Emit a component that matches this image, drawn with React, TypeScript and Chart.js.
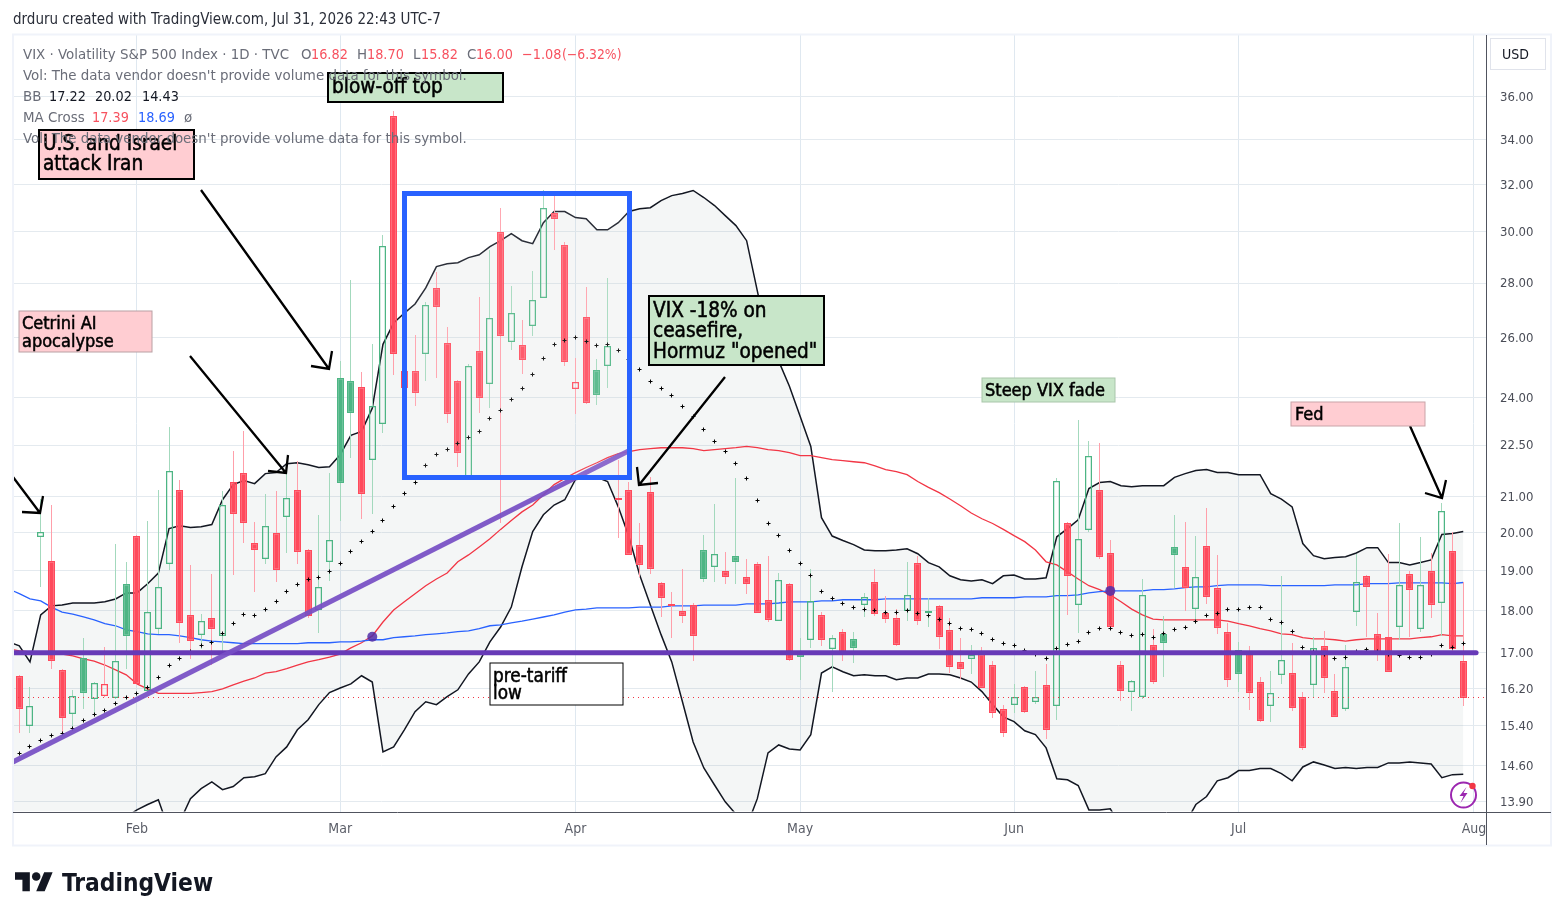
import React, { useEffect, useRef } from "react";
import { Chart, registerables } from "chart.js";

Chart.register(...registerables);

const opens = [16.48,15.40,19.88,19.25,16.61,15.64,16.87,15.97,16.04,15.99,18.66,19.91,16.15,17.56,19.17,21.19,17.89,17.42,17.81,17.39,21.42,21.68,19.72,19.30,19.99,20.42,21.19,19.53,18.01,19.22,24.62,24.52,24.32,22.05,23.14,35.10,24.86,24.86,25.44,27.82,25.82,24.52,21.54,25.54,24.42,30.01,25.86,25.75,26.42,27.45,30.77,29.49,24.26,26.75,24.89,25.03,20.88,21.19,19.66,21.13,18.68,18.13,17.98,18.13,19.53,19.09,18.99,19.38,18.84,19.17,18.26,17.75,18.64,16.97,17.30,17.89,17.09,17.49,17.32,18.14,18.71,17.94,17.82,17.99,19.20,17.98,18.11,17.53,16.79,16.86,16.97,16.72,15.76,15.85,16.24,15.91,16.28,15.82,20.24,18.13,20.05,21.19,19.45,16.72,16.13,16.02,17.18,17.44,19.61,19.09,18.04,19.64,18.56,17.49,17.07,17.00,16.34,15.81,16.50,16.54,16.02,16.28,17.16,16.15,15.76,17.95,18.86,17.44,17.37,17.60,18.91,17.56,18.99,18.18,19.50,16.82];
const highs = [16.50,16.23,20.92,20.75,16.64,16.17,17.34,16.32,17.14,19.70,19.22,19.94,20.32,21.19,23.05,21.45,19.14,17.91,18.91,21.16,22.33,22.92,20.29,21.05,21.16,21.65,22.03,19.56,20.48,21.68,25.20,28.12,24.83,25.78,29.89,35.30,24.95,26.10,27.28,28.43,26.38,24.52,25.10,27.47,29.28,31.00,27.89,26.64,28.47,31.74,31.60,29.61,25.30,27.85,25.27,28.20,22.06,21.42,20.24,21.54,18.71,18.46,19.04,18.18,19.94,20.78,19.48,21.51,19.30,19.22,19.38,18.93,18.68,17.34,19.04,17.96,17.42,17.56,17.49,18.43,19.04,18.36,18.03,19.22,19.38,18.31,18.13,17.82,17.34,17.18,17.13,16.81,15.85,16.30,16.24,16.59,16.75,21.51,20.29,23.29,22.61,22.55,19.80,16.81,16.36,18.78,17.56,17.87,20.48,20.29,19.91,20.67,19.40,17.70,17.25,17.16,16.45,16.59,18.86,17.23,16.13,17.37,17.51,16.52,17.18,19.43,18.88,17.94,19.43,20.26,18.99,19.88,19.45,20.81,20.02,18.70];
const lows = [15.26,15.26,18.58,16.64,15.24,15.32,15.76,15.68,16.02,15.97,16.64,16.27,16.13,17.44,19.01,17.23,16.86,17.09,16.72,17.04,18.88,19.72,18.44,19.17,18.71,19.45,19.17,17.82,17.47,18.73,20.32,22.12,20.35,20.51,22.87,24.72,24.20,23.71,24.55,24.63,23.17,21.83,21.50,23.49,23.65,20.24,25.58,24.76,26.06,27.44,29.28,25.03,23.46,23.79,23.74,24.29,19.86,19.40,18.84,18.91,17.84,17.35,17.70,16.81,18.71,18.71,18.64,18.66,18.41,17.94,17.72,17.74,16.81,16.39,17.11,17.16,16.13,16.81,16.77,17.84,17.87,17.70,17.16,17.74,17.65,17.60,17.09,16.54,16.41,16.52,16.21,15.57,15.18,15.68,15.67,15.87,15.13,15.53,17.89,17.47,20.02,19.30,17.56,15.93,15.72,15.97,16.30,16.45,18.56,17.99,17.67,18.16,17.44,16.23,16.13,15.74,15.49,15.49,16.30,15.72,14.91,16.00,16.11,15.59,15.72,17.63,17.37,16.81,16.57,17.30,17.37,17.49,17.82,17.39,16.95,15.82];
const closes = [15.76,15.82,20.00,16.82,15.57,16.04,16.09,16.31,16.29,16.80,17.38,16.29,17.95,18.58,21.74,17.70,17.28,17.75,17.56,20.75,20.51,20.24,19.53,20.18,19.01,20.95,19.48,17.87,18.58,19.80,21.37,23.49,21.07,23.71,29.45,25.44,24.30,24.13,27.20,27.12,23.46,22.27,25.03,23.97,26.70,26.07,26.89,25.23,27.37,31.00,30.54,25.16,24.49,23.80,24.06,25.71,20.95,19.41,19.14,19.04,18.31,18.11,17.87,17.39,18.78,19.43,18.84,19.22,18.64,17.94,17.77,18.75,16.84,16.90,18.23,17.30,17.33,17.00,17.11,18.33,17.92,17.79,17.18,18.38,17.74,17.94,17.37,16.68,16.64,16.95,16.21,15.67,15.26,16.02,15.70,16.02,15.32,21.44,18.86,19.82,22.18,19.35,17.60,16.15,16.36,18.38,16.34,17.23,19.40,18.56,18.84,18.33,17.58,16.39,16.52,16.09,15.51,16.09,16.84,15.78,14.95,17.11,16.44,15.59,16.67,18.71,18.58,16.97,16.57,18.63,18.51,18.63,18.14,20.58,17.08,16.00];

// overlay series start one session before the first candle
const bbUpper = [17.25,17.16,16.79,17.89,18.11,18.13,18.18,18.18,18.18,18.21,18.28,18.43,18.43,18.66,18.93,20.10,20.18,20.13,20.15,20.21,20.90,21.33,21.45,21.36,21.65,21.68,21.94,21.97,21.91,21.83,21.85,22.21,22.80,22.92,23.65,25.78,26.53,26.89,27.22,27.82,28.63,28.74,28.78,28.98,29.09,29.41,29.65,29.93,29.65,29.53,30.38,30.84,30.84,30.59,30.54,30.09,30.09,30.38,30.84,30.96,31.00,31.30,31.51,31.60,31.73,31.43,31.09,30.67,30.26,29.65,27.71,25.89,25.20,24.36,23.39,22.46,20.40,19.90,19.78,19.67,19.53,19.51,19.51,19.53,19.56,19.43,19.20,19.09,18.86,18.76,18.73,18.76,18.66,18.86,18.88,18.78,18.78,18.81,19.88,20.10,20.34,21.22,21.39,21.42,21.30,21.27,21.30,21.30,21.30,21.54,21.65,21.74,21.77,21.68,21.68,21.62,21.62,21.62,21.07,20.92,20.70,19.70,19.38,19.30,19.33,19.35,19.45,19.59,19.59,19.20,19.20,19.14,19.20,19.27,19.94,19.97,20.02];
const bbLower = [13.30,13.30,13.20,13.20,13.30,13.30,13.30,13.35,13.40,13.45,13.50,13.62,13.75,13.85,13.94,13.38,13.53,13.96,14.15,14.28,14.13,14.19,14.36,14.38,14.44,14.77,14.97,15.32,15.53,15.85,16.11,16.21,16.30,16.48,16.34,14.87,14.97,15.32,15.70,15.91,15.85,16.02,16.17,16.52,16.79,17.25,17.60,18.08,19.09,20.02,20.48,20.75,20.90,21.48,21.51,21.54,21.42,20.70,19.88,18.88,18.13,17.42,16.79,15.91,15.07,14.55,14.22,13.90,13.67,13.44,13.96,14.85,15.01,14.93,14.91,15.22,16.54,16.68,16.57,16.48,16.50,16.48,16.48,16.39,16.43,16.43,16.52,16.52,16.50,16.43,16.34,16.13,15.85,15.59,15.49,15.30,15.22,14.95,14.34,14.32,14.21,13.75,13.75,13.77,13.44,13.26,13.17,13.14,13.14,13.17,13.49,13.85,14.00,14.30,14.36,14.50,14.50,14.54,14.54,14.44,14.30,14.57,14.67,14.61,14.54,14.56,14.54,14.56,14.56,14.65,14.65,14.67,14.65,14.63,14.36,14.42,14.43];
const maSlow = [18.53,18.41,18.28,18.23,18.08,17.96,17.91,17.84,17.77,17.68,17.63,17.53,17.49,17.44,17.42,17.42,17.39,17.35,17.30,17.27,17.25,17.23,17.21,17.21,17.21,17.21,17.21,17.21,17.23,17.23,17.23,17.25,17.25,17.27,17.30,17.30,17.35,17.37,17.39,17.42,17.44,17.46,17.49,17.51,17.56,17.63,17.65,17.70,17.74,17.79,17.84,17.89,17.96,18.01,18.03,18.06,18.06,18.06,18.06,18.08,18.08,18.08,18.11,18.11,18.11,18.13,18.13,18.13,18.13,18.16,18.16,18.16,18.18,18.21,18.21,18.21,18.23,18.23,18.26,18.26,18.26,18.26,18.28,18.28,18.28,18.28,18.28,18.28,18.28,18.28,18.28,18.31,18.31,18.31,18.31,18.33,18.33,18.33,18.36,18.36,18.38,18.43,18.46,18.48,18.48,18.48,18.48,18.51,18.51,18.53,18.56,18.58,18.58,18.61,18.63,18.63,18.63,18.63,18.61,18.61,18.61,18.61,18.61,18.61,18.63,18.63,18.63,18.66,18.66,18.66,18.68,18.68,18.68,18.68,18.68,18.66,18.69];
const maFast = [17.09,17.04,17.02,17.02,17.00,16.97,16.93,16.86,16.81,16.72,16.61,16.50,16.30,16.19,16.09,16.09,16.09,16.09,16.11,16.13,16.19,16.28,16.36,16.43,16.54,16.57,16.64,16.72,16.79,16.84,16.90,16.97,17.11,17.23,17.39,17.72,18.01,18.21,18.41,18.61,18.78,18.93,19.22,19.40,19.61,19.83,20.08,20.32,20.56,20.75,21.04,21.33,21.51,21.68,21.83,21.97,22.12,22.24,22.30,22.36,22.39,22.42,22.42,22.42,22.39,22.33,22.36,22.39,22.42,22.46,22.42,22.36,22.33,22.27,22.18,22.18,22.12,22.06,22.03,22.00,21.97,21.88,21.77,21.71,21.62,21.42,21.25,21.10,20.92,20.73,20.53,20.37,20.24,20.08,19.91,19.75,19.53,19.22,19.14,18.96,18.78,18.61,18.51,18.38,18.21,18.03,17.89,17.79,17.77,17.77,17.77,17.77,17.77,17.77,17.74,17.68,17.63,17.56,17.51,17.44,17.42,17.35,17.32,17.32,17.30,17.27,17.30,17.32,17.32,17.32,17.32,17.32,17.35,17.37,17.42,17.39,17.39];
const maDots = [14.83,14.97,15.09,15.20,15.24,15.34,15.51,15.64,15.72,15.87,16.00,16.09,16.21,16.43,16.72,16.86,17.02,17.16,17.23,17.44,17.68,17.89,17.87,18.03,18.21,18.46,18.64,18.76,18.81,18.96,19.17,19.48,19.75,20.02,20.32,20.70,21.07,21.39,21.88,22.21,22.36,22.55,22.74,22.92,23.33,23.58,23.93,24.29,24.76,25.30,25.78,25.92,26.03,25.89,25.75,25.78,25.58,25.27,24.93,24.52,24.29,24.06,23.71,23.39,22.98,22.61,22.30,21.94,21.51,20.87,20.24,19.91,19.51,19.17,18.88,18.46,18.28,18.16,18.06,18.01,17.99,17.96,17.96,17.99,17.92,17.87,17.77,17.68,17.56,17.53,17.44,17.30,17.21,17.16,17.04,16.95,16.86,17.09,17.18,17.25,17.46,17.56,17.56,17.46,17.39,17.42,17.35,17.44,17.53,17.60,17.72,17.87,17.92,18.01,18.03,18.06,18.06,17.79,17.70,17.49,17.13,17.02,16.95,16.86,16.90,17.02,17.07,17.02,16.97,16.93,16.88,16.90,16.95,17.16,17.13,17.22];

const priceTicks = [36, 34, 32, 30, 28, 26, 24, 22.5, 21, 20, 19, 18, 17, 16.2, 15.4, 14.6, 13.9];
const monthNames = ["Feb", "Mar", "Apr", "May", "Jun", "Jul", "Aug"];
const monthSessions = [11, 30, 52, 73, 93, 114, 136];

const crossSessions = [33, 102];
const crossLevels = [17.37, 18.48];
const supportLevel = 17;
const lastClose = 16;
const trendFrom = { x: -0.59, y: 14.67 };
const trendTo = { x: 57, y: 22.33 };

const UI = '"DejaVu Sans Condensed", "DejaVu Sans", sans-serif';
const RED = "#ff4a5c";
const GREEN = "#4db584";
const RED_WICK = "#ff9faa";
const GREEN_WICK = "#a3d9bd";
const PINK = "#ffcdd2";
const MINT = "#c8e6c9";
const GREY = "#6a6d78";
const VALUE_RED = "#f7525f";

const notes = [
  { box: [328, 73, 175, 29], fill: MINT, line: 2, size: 20.6, lines: ["blow-off top"], at: [332, 88], gap: 0 },
  { box: [39, 130, 155, 49], fill: PINK, line: 2, size: 20.6, lines: ["U.S. and Israel", "attack Iran"], at: [43, 145], gap: 20 },
  { box: [19, 311, 133, 41], fill: PINK, line: 1, stroke: "#b9a0a4", size: 18, lines: ["Cetrini AI", "apocalypse"], at: [22, 324], gap: 18 },
  { box: [649, 296, 175, 69], fill: MINT, line: 2, size: 20.6, lines: ["VIX -18% on", "ceasefire,", 'Hormuz "opened"'], at: [653, 311.5], gap: 20.5 },
  { box: [982, 378, 133, 24], fill: MINT, line: 1, stroke: "#a9c6aa", size: 18, lines: ["Steep VIX fade"], at: [985, 391.5], gap: 0 },
  { box: [1291, 402, 134, 24], fill: PINK, line: 1, stroke: "#c9a3a8", size: 18, lines: ["Fed"], at: [1295, 415.5], gap: 0 },
  { box: [490, 663, 133, 42], fill: "#ffffff", line: 1, size: 18.8, lines: ["pre-tariff", "low"], at: [493, 677], gap: 17 },
];

const arrows = [
  { from: [13, 477], tip: [40, 513], wings: [[22, 512], [43, 496]] },
  { from: [190, 356], tip: [286, 473], wings: [[268, 471], [288, 455]] },
  { from: [201, 190], tip: [329, 369], wings: [[311, 366], [332, 351]] },
  { from: [725, 377], tip: [639, 485], wings: [[658, 483], [637, 467]] },
  { from: [1410, 426], tip: [1442, 498], wings: [[1425, 493], [1446, 480]] },
];

const legend: { y: number; parts: [string, string, number, number][] }[] = [
  { y: 55, parts: [["VIX · Volatility S&P 500 Index · 1D · TVC", GREY, 23, 14.9], ["O", GREY, 301, 14.9], ["16.82", VALUE_RED, 311, 14.3], ["H", GREY, 357, 14.9], ["18.70", VALUE_RED, 367, 14.3], ["L", GREY, 413, 14.9], ["15.82", VALUE_RED, 421, 14.3], ["C", GREY, 467, 14.9], ["16.00", VALUE_RED, 476, 14.3], ["−1.08", VALUE_RED, 522, 14.3], ["(−6.32%)", VALUE_RED, 562, 13.8]] },
  { y: 76, parts: [["Vol: The data vendor doesn't provide volume data for this symbol.", GREY, 23, 14.9]] },
  { y: 97, parts: [["BB", GREY, 23, 14.9], ["17.22", "#131722", 49, 14.3], ["20.02", "#131722", 95, 14.3], ["14.43", "#131722", 142, 14.3]] },
  { y: 118, parts: [["MA Cross", GREY, 23, 14.9], ["17.39", VALUE_RED, 92, 14.3], ["18.69", "#2962ff", 138, 14.3], ["ø", GREY, 184, 14.9]] },
  { y: 139, parts: [["Vol: The data vendor doesn't provide volume data for this symbol.", GREY, 23, 14.9]] },
];

const at = (values: number[], lead = 0) => values.map((y, i) => ({ x: i - lead, y }));
const prevClose = (i: number) => (i === 0 ? closes[0] + 1 : closes[i - 1]);
const rising = closes.map((c, i) => c >= prevClose(i));
const hollow = closes.map((c, i) => c > opens[i]);

const overlayPlugin = {
  id: "overlay",
  beforeDatasetsDraw(chart: any) {
    chart.getSortedVisibleDatasetMetas().forEach((meta: any) => {
      if (meta.type === "bar") {
        meta.data.forEach((el: any) => {
          el.x = Math.floor(el.x) + 0.5;
          el.y = Math.round(el.y);
          el.base = Math.round(el.base);
          if (el.y === el.base) el.y -= 1;
        });
      } else if (chart.data.datasets[meta.index].label === "MA dots") {
        meta.data.forEach((el: any) => {
          el.x = Math.floor(el.x) + 0.5;
          el.y = Math.floor(el.y) + 0.5;
        });
      }
    });
  },
  afterDatasetsDraw(chart: any) {
    const { ctx, scales, chartArea } = chart;
    const px = (v: number) => scales.x.getPixelForValue(v);
    const py = (v: number) => scales.y.getPixelForValue(v);
    ctx.save();
    ctx.beginPath();
    ctx.rect(chartArea.left, chartArea.top, chartArea.right - chartArea.left, chartArea.bottom - chartArea.top);
    ctx.clip();

    ctx.strokeStyle = "#f23645";
    ctx.lineWidth = 1;
    ctx.setLineDash([1, 4]);
    ctx.beginPath();
    ctx.moveTo(chartArea.left, Math.floor(py(lastClose)) + 0.5);
    ctx.lineTo(chartArea.right, Math.floor(py(lastClose)) + 0.5);
    ctx.stroke();
    ctx.setLineDash([]);

    ctx.strokeStyle = "#673ab7";
    ctx.lineWidth = 5;
    ctx.lineCap = "round";
    ctx.beginPath();
    ctx.moveTo(chartArea.left, py(supportLevel));
    ctx.lineTo(px(136.2), py(supportLevel));
    ctx.stroke();

    ctx.strokeStyle = "rgba(118,78,196,0.92)";
    ctx.lineWidth = 5;
    ctx.lineCap = "butt";
    ctx.beginPath();
    ctx.moveTo(px(trendFrom.x), py(trendFrom.y));
    ctx.lineTo(px(trendTo.x), py(trendTo.y));
    ctx.stroke();

    crossSessions.forEach((s, i) => {
      ctx.fillStyle = "rgba(81,45,168,0.85)";
      ctx.beginPath();
      ctx.arc(px(s), py(crossLevels[i]), 5, 0, Math.PI * 2);
      ctx.fill();
    });

    ctx.fillStyle = "rgba(255,255,255,0.1)";
    ctx.fillRect(404.5, 193.5, 225, 284);
    ctx.strokeStyle = "#2962ff";
    ctx.lineWidth = 5;
    ctx.lineCap = "butt";
    ctx.strokeRect(404.5, 193.5, 225, 284);

    ctx.strokeStyle = "#000000";
    ctx.lineWidth = 2.3;
    ctx.lineCap = "butt";
    arrows.forEach((a) => {
      ctx.beginPath();
      ctx.moveTo(a.from[0], a.from[1]);
      ctx.lineTo(a.tip[0], a.tip[1]);
      ctx.moveTo(a.wings[0][0], a.wings[0][1]);
      ctx.lineTo(a.tip[0], a.tip[1]);
      ctx.lineTo(a.wings[1][0], a.wings[1][1]);
      ctx.stroke();
    });

    notes.forEach((n) => {
      const [x, y, w, h] = n.box;
      ctx.fillStyle = n.fill;
      ctx.fillRect(x, y, w, h);
      ctx.strokeStyle = n.stroke ?? "#000000";
      ctx.lineWidth = n.line;
      ctx.strokeRect(x, y, w, h);
      ctx.fillStyle = "#000000";
      ctx.strokeStyle = "#000000";
      ctx.lineWidth = 0.5;
      ctx.font = `${n.size}px ${UI}`;
      ctx.textAlign = "left";
      ctx.textBaseline = "middle";
      n.lines.forEach((t, i) => {
        ctx.fillText(t, n.at[0], n.at[1] + i * n.gap);
        ctx.strokeText(t, n.at[0], n.at[1] + i * n.gap);
      });
    });

    const cx = 1463.5, cy = 795;
    ctx.strokeStyle = "#9c27b0";
    ctx.lineWidth = 2;
    ctx.beginPath();
    ctx.arc(cx, cy, 12.5, 0, Math.PI * 2);
    ctx.stroke();
    ctx.fillStyle = "#9c27b0";
    ctx.beginPath();
    ctx.moveTo(cx + 3, cy - 8);
    ctx.lineTo(cx - 4, cy + 1);
    ctx.lineTo(cx, cy + 1);
    ctx.lineTo(cx - 3, cy + 8);
    ctx.lineTo(cx + 4, cy - 2);
    ctx.lineTo(cx, cy - 2);
    ctx.closePath();
    ctx.fill();
    ctx.fillStyle = "#f23645";
    ctx.beginPath();
    ctx.arc(cx + 9, cy - 9, 3.2, 0, Math.PI * 2);
    ctx.fill();
    ctx.restore();

    ctx.save();
    ctx.textBaseline = "middle";
    ctx.textAlign = "left";
    legend.forEach((row) => {
      row.parts.forEach(([t, c, x, size]) => {
        ctx.font = `${size}px ${UI}`;
        ctx.fillStyle = c;
        ctx.fillText(t, x, row.y);
      });
    });
    ctx.restore();
  },
  afterDraw(chart: any) {
    const { ctx, chartArea } = chart;
    ctx.save();
    ctx.strokeStyle = "#f0f3fa";
    ctx.lineWidth = 2;
    ctx.strokeRect(13, 34.5, 1538, 811);
    ctx.strokeStyle = "#50535e";
    ctx.lineWidth = 1;
    ctx.beginPath();
    ctx.moveTo(13, Math.round(chartArea.bottom) + 0.5);
    ctx.lineTo(1551, Math.round(chartArea.bottom) + 0.5);
    ctx.moveTo(1486.5, 35);
    ctx.lineTo(1486.5, 845);
    ctx.stroke();

    ctx.strokeStyle = "#e0e3eb";
    ctx.strokeRect(1490.5, 38.5, 55, 31);
    ctx.fillStyle = "#131722";
    ctx.font = `14px ${UI}`;
    ctx.textAlign = "center";
    ctx.textBaseline = "middle";
    ctx.fillText("USD", 1515.5, 55);

    ctx.textAlign = "left";
    ctx.font = `15px ${UI}`;
    ctx.fillStyle = "#2a2e39";
    ctx.fillText("drduru created with TradingView.com, Jul 31, 2026 22:43 UTC-7", 13, 20);

    ctx.save();
    ctx.translate(15, 868);
    ctx.scale(1.06, 1.06);
    ctx.fillStyle = "#131722";
    ctx.fill(new Path2D("M14 22H7V11H0V4h14v18zM28 22h-8l7.5-18h8L28 22z"));
    ctx.beginPath();
    ctx.arc(20, 8, 4, 0, Math.PI * 2);
    ctx.fill();
    ctx.restore();
    ctx.fillStyle = "#131722";
    ctx.font = `600 24.3px ${UI}`;
    ctx.fillText("TradingView", 62, 885);
    ctx.restore();
  },
};

export default function App() {
  const ref = useRef<HTMLCanvasElement | null>(null);

  useEffect(() => {
    document.body.style.margin = "0";
    document.body.style.background = "#ffffff";
    const commonBar = { grouped: false, inflateAmount: 0, borderSkipped: false };
    const chart = new Chart(ref.current as HTMLCanvasElement, {
      type: "bar",
      plugins: [overlayPlugin],
      data: {
        datasets: [
          {
            type: "line", label: "BB upper", data: at(bbUpper, 1), borderColor: "#131722", borderWidth: 1.5,
            pointRadius: 0, tension: 0, fill: { target: "+1" }, backgroundColor: "rgba(110,135,135,0.075)", order: 10,
          },
          {
            type: "line", label: "BB lower", data: at(bbLower, 1), borderColor: "#131722", borderWidth: 1.5,
            pointRadius: 0, tension: 0, fill: false, order: 10,
          },
          {
            type: "line", label: "MA slow", data: at(maSlow, 1), borderColor: "#2962ff", borderWidth: 1.3,
            pointRadius: 0, tension: 0, fill: false, order: 8,
          },
          {
            type: "line", label: "MA fast", data: at(maFast, 1), borderColor: "#f23645", borderWidth: 1.3,
            pointRadius: 0, tension: 0, fill: false, order: 8,
          },
          {
            type: "bar", label: "upper wick", ...commonBar, barThickness: 1, order: 5,
            data: highs.map((h, i) => ({ x: i, y: [Math.max(opens[i], closes[i]), h] })),
            backgroundColor: rising.map((r) => (r ? GREEN_WICK : RED_WICK)), borderWidth: 0,
          },
          {
            type: "bar", label: "lower wick", ...commonBar, barThickness: 1, order: 5,
            data: lows.map((l, i) => ({ x: i, y: [l, Math.min(opens[i], closes[i])] })),
            backgroundColor: rising.map((r) => (r ? GREEN_WICK : RED_WICK)), borderWidth: 0,
          },
          {
            type: "bar", label: "VIX", ...commonBar, barThickness: 7, minBarLength: 2, order: 4,
            data: closes.map((c, i) => ({ x: i, y: [opens[i], c] })),
            backgroundColor: closes.map((_, i) => (hollow[i] ? "rgba(0,0,0,0)" : rising[i] ? GREEN : RED)),
            borderColor: rising.map((r) => (r ? GREEN : RED)),
            borderWidth: 1.25,
          },
          {
            type: "line", label: "MA dots", data: at(maDots), showLine: false, pointStyle: "cross",
            pointRadius: 2, pointBorderWidth: 1, pointBorderColor: "#000000", pointBackgroundColor: "#000000", order: 1,
          },
        ],
      } as any,
      options: {
        responsive: false,
        animation: false,
        layout: { padding: { left: 13, top: 35, right: 0, bottom: 0 } },
        plugins: {
          legend: { display: false },
          tooltip: { enabled: false },
          filler: { drawTime: "beforeDatasetsDraw", propagate: false },
        },
        scales: {
          x: {
            type: "linear",
            offset: false,
            min: -0.589,
            max: 137.22,
            afterFit: (s: any) => { s.height = 109.5; },
            afterBuildTicks: (s: any) => { s.ticks = monthSessions.map((value) => ({ value })); },
            grid: { color: "#dfe8f0", lineWidth: 1, drawTicks: false, offset: false },
            border: { display: false },
            ticks: {
              autoSkip: false,
              maxRotation: 0,
              padding: 9,
              color: "#5b5e68",
              font: { family: UI, size: 14 },
              callback: (v: any) => monthNames[monthSessions.indexOf(Number(v))] ?? "",
            },
          },
          y: {
            type: "logarithmic",
            position: "right",
            min: 13.72,
            max: 39.14,
            afterFit: (s: any) => { s.width = 77; },
            afterBuildTicks: (s: any) => { s.ticks = priceTicks.map((value) => ({ value })); },
            grid: { color: "#e4eaef", lineWidth: 1, drawTicks: false },
            border: { display: false },
            ticks: {
              autoSkip: false,
              padding: 13,
              labelOffset: 1,
              color: "#4a4d57",
              font: { family: UI, size: 13 },
              callback: (v: any) => Number(v).toFixed(2),
            },
          },
        },
      } as any,
    });
    return () => chart.destroy();
  }, []);

  return <canvas ref={ref} width={1564} height={921} style={{ display: "block" }} />;
}
